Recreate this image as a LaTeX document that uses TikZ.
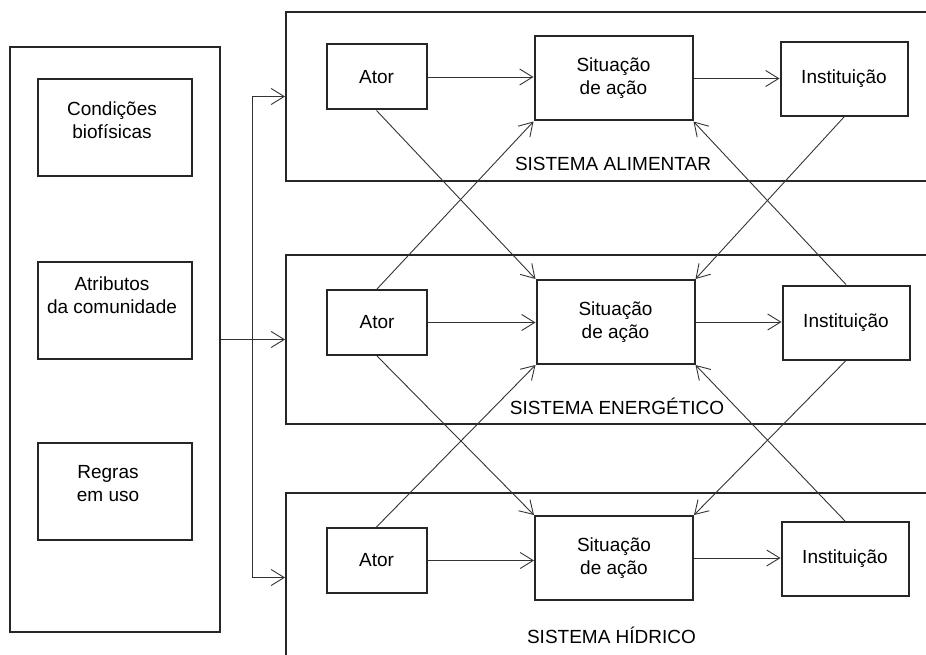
\documentclass[tikz,border=0pt]{standalone}
\usepackage{fontspec}
\setmainfont{Liberation Sans}
\usetikzlibrary{arrows.meta}
\begin{document}
\begin{tikzpicture}[x=1pt,y=-1pt,
  every node/.style={font=\fontsize{19}{23}\selectfont, text=black, align=center, inner sep=0pt},
  box/.style={draw=black!85, line width=2pt, rectangle},
  sysbox/.style={box, minimum width=664pt, minimum height=169pt},
  arr/.style={draw=black!80, line width=0.9pt, -{Straight Barb[length=13pt,width=16pt]}},
  link/.style={draw=black!80, line width=0.9pt},
  ator/.style={box, minimum width=100pt, minimum height=65pt},
  sit/.style={box, minimum width=158pt, minimum height=84pt},
  inst/.style={box, minimum width=127pt, minimum height=74pt},
  factor/.style={box, minimum width=154pt, minimum height=97pt}]
\useasboundingbox (0,0) rectangle (926,655);
\clip (0,0) rectangle (926,655);

% context column on the left
\node[box, minimum width=210pt, minimum height=585pt] (ctx) at (115,339.5) {};
\node[factor] (cond) at (115,127.5) {};
\node (condt) at (112,120) {Condições\\biofísicas};
\node[factor] (atr) at (115,310) {};
\node (atrt) at (112,295) {Atributos\\da comunidade};
\node[factor] (reg) at (115,491.5) {};
\node (regt) at (108,484) {Regras\\em uso};

% the three systems
\node[sysbox] (sysT) at (618,96.5) {};
\node[sysbox] (sysM) at (618,339.5) {};
\node[sysbox] (sysB) at (618,577.5) {};
\node (labT) at (613,164) {SISTEMA ALIMENTAR};
\node (labM) at (617,406) {SISTEMA ENERGÉTICO};
\node (labB) at (611.5,635) {SISTEMA HÍDRICO};

% distribution bus from the context column
\path (sysT.west) ++(-33,0) coordinate (jT);
\path (sysB.west) ++(-33,0) coordinate (jB);
\draw[link] (jT) -- (jB);
\draw[arr] (jT) -- (sysT.west);
\draw[arr] (jB) -- (sysB.west);
\draw[arr] (ctx.east) -- (sysM.west);

% top row
\node[ator] (a1) at (376.5,77) {Ator};
\node[sit] (s1) at (613.5,78.5) {Situação\\de ação};
\node[inst] (i1) at (844,79) {Instituição};
% middle row
\node[ator] (a2) at (377,322.5) {Ator};
\node[sit] (s2) at (615.5,322) {Situação\\de ação};
\node[inst] (i2) at (846,322.5) {Instituição};
% bottom row
\node[ator] (a3) at (376.5,560.5) {Ator};
\node[sit] (s3) at (614,558) {Situação\\de ação};
\node[inst] (i3) at (845,559) {Instituição};

% flows within each system
\foreach \r in {1,2,3}{
  \draw[arr] (a\r.east) -- (a\r.east -| s\r.west);
  \draw[arr] (s\r.east) -- (s\r.east -| i\r.west);
}

% cross links between neighbouring systems
\draw[arr] (a1.south) -- (s2.north west);
\draw[arr] (a2.north) -- (s1.south west);
\draw[arr] (i1.south) -- (s2.north east);
\draw[arr] (i2.north) -- (s1.south east);
\draw[arr] (a2.south) -- (s3.north west);
\draw[arr] (a3.north) -- (s2.south west);
\draw[arr] (i2.south) -- (s3.north east);
\draw[arr] (i3.north) -- (s2.south east);
\end{tikzpicture}
\end{document}
